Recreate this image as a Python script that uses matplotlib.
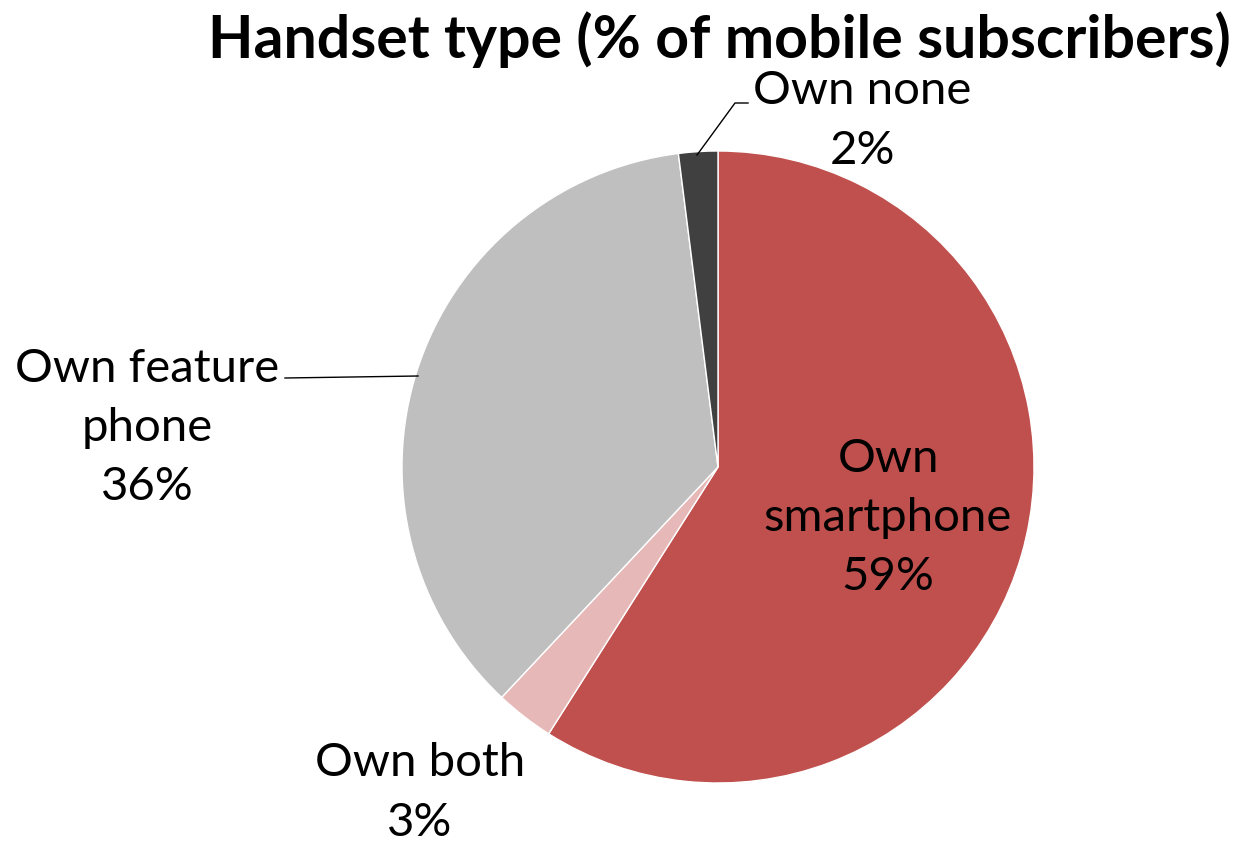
import matplotlib
matplotlib.use("Agg")
import matplotlib.pyplot as plt

# Daten
labels = ["Own\nsmartphone", "Own both", "Own feature\nphone", "Own none"]
shares = [59, 3, 36, 2]
colors = ["#C0504D", "#E6B9B8", "#BFBFBF", "#404040"]

W, H = 1241, 844
plt.rcParams['font.family'] = ['Lato', 'DejaVu Sans']

fig = plt.figure(figsize=(W / 100, H / 100), dpi=100)
ax = fig.add_axes([0, 0, 1, 1])

cx, cy, r = 718, H - 467, 316
wedges, _ = ax.pie(shares, colors=colors, startangle=90, counterclock=False,
                   center=(cx, cy), radius=r,
                   wedgeprops=dict(edgecolor="white", linewidth=1))

ax.set_xlim(0, W)
ax.set_ylim(0, H)
ax.set_aspect('equal')
ax.axis('off')

# Beschriftungen (Position in Pixel, y von oben)
label_pos = [(888, 518), (420, 793), (147, 428), (862, 121)]
fs = 34
for lab, val, (x, y) in zip(labels, shares, label_pos):
    ax.text(x, H - y, f"{lab}\n{val}%", ha="center", va="center",
            fontsize=fs, linespacing=1.5, color="black")

# Führungslinien
ax.plot([748, 735, 697], [H - 103, H - 103, H - 155], color="black", lw=1)
ax.plot([285, 418], [H - 378, H - 376], color="black", lw=1)

ax.text(719, H - 40, "Handset type (% of mobile subscribers)", ha="center",
        va="center", fontsize=42.5, fontweight="bold")

fig.savefig("out.png", dpi=100)
